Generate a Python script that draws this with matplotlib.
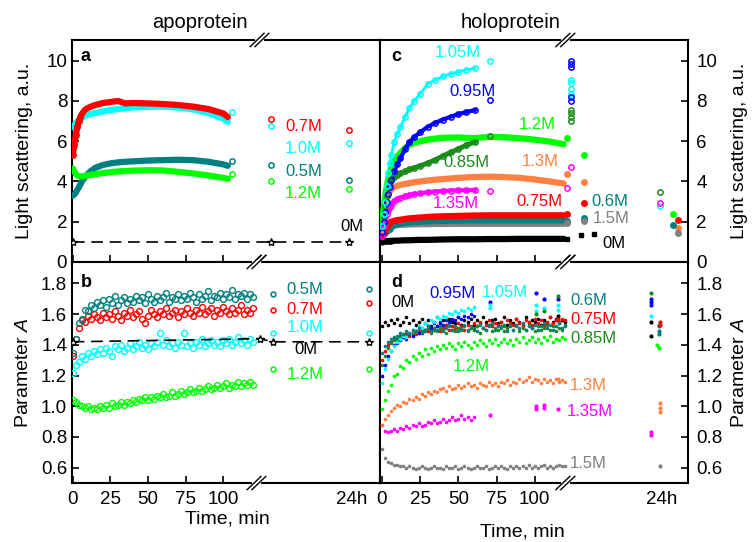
import numpy as np
import matplotlib.pyplot as plt

plt.rcParams['font.family'] = ['Liberation Sans', 'DejaVu Sans']
plt.rcParams['mathtext.fontset'] = 'custom'
plt.rcParams['mathtext.rm'] = 'Liberation Sans'
plt.rcParams['mathtext.it'] = 'Liberation Sans:italic'

RED = '#ff0000'
CYAN = '#00ffff'
TEAL = '#008080'
LIME = '#00ff00'
BLUE = '#0000ff'
DKGREEN = '#1a8c1a'
ORANGE = '#ff8040'
MAGENTA = '#ff00ff'
GRAY = '#808080'

# ---------------- panel a: apoprotein, light scattering ----------------
ta = [0, 1, 2, 3, 4, 5, 6, 8, 10, 12, 15, 20, 25, 30, 35, 40, 50, 60, 70, 80, 90, 100, 103]
a_red = [5.34, 5.8, 6.3, 6.7, 7.0, 7.2, 7.35, 7.55, 7.65, 7.72, 7.8, 7.9, 7.95, 8.0, 7.88, 7.9,
         7.88, 7.85, 7.8, 7.72, 7.6, 7.38, 7.2]
a_cyan = [6.72, 6.8, 6.9, 6.98, 7.05, 7.1, 7.15, 7.25, 7.32, 7.36, 7.4, 7.48, 7.55, 7.6, 7.64, 7.68,
          7.72, 7.72, 7.68, 7.58, 7.4, 7.12, 6.96]
a_teal = [3.3, 3.35, 3.45, 3.58, 3.7, 3.85, 4.0, 4.2, 4.38, 4.52, 4.68, 4.82, 4.9, 4.95, 4.98, 5.0,
          5.04, 5.06, 5.08, 5.06, 4.98, 4.85, 4.78]
a_lime = [4.65, 4.5, 4.38, 4.3, 4.27, 4.26, 4.26, 4.28, 4.3, 4.33, 4.36, 4.42, 4.46, 4.5, 4.52, 4.54,
          4.56, 4.55, 4.48, 4.4, 4.3, 4.18, 4.13]
a_end_t = [106]
a_cyan_end = [7.45]
a_teal_end = [5.02]
a_lime_end = [4.35]
a_late_t = [131.5, 183.4]
a_red_late = [7.12, 6.55]
a_cyan_late = [6.78, 5.92]
a_teal_late = [4.82, 4.05]
a_lime_late = [4.03, 3.65]
a_zero_t = [0, 131.5, 183.4]
a_zero = [1.0, 1.0, 1.0]

# ---------------- panel b: apoprotein, parameter A (every 2 min) ----------------
b_teal = [1.35, 1.44, 1.54, 1.57, 1.63, 1.62, 1.66, 1.64, 1.68, 1.66,
          1.69, 1.65, 1.70, 1.67, 1.72, 1.66, 1.69, 1.71, 1.67, 1.70,
          1.68, 1.72, 1.69, 1.71, 1.67, 1.73, 1.70, 1.68, 1.72, 1.69,
          1.71, 1.74, 1.68, 1.71, 1.70, 1.73, 1.69, 1.72, 1.70, 1.74,
          1.71, 1.68, 1.73, 1.70, 1.72, 1.75, 1.69, 1.72, 1.71, 1.74,
          1.70, 1.73, 1.71, 1.76, 1.70, 1.73, 1.72, 1.74, 1.70, 1.73, 1.71]
b_red = [1.33, 1.44, 1.51, 1.56, 1.55, 1.59, 1.57, 1.60, 1.58, 1.56,
         1.61, 1.58, 1.60, 1.57, 1.62, 1.59, 1.56, 1.61, 1.59, 1.63,
         1.58, 1.60, 1.62, 1.57, 1.54, 1.59, 1.63, 1.60, 1.58, 1.62,
         1.60, 1.64, 1.59, 1.61, 1.63, 1.58, 1.62, 1.60, 1.64, 1.61,
         1.59, 1.63, 1.61, 1.65, 1.60, 1.62, 1.64, 1.59, 1.63, 1.61,
         1.65, 1.62, 1.60, 1.64, 1.61, 1.63, 1.66, 1.60, 1.63, 1.61, 1.64]
b_cyan = [1.22, 1.27, 1.29, 1.33, 1.31, 1.35, 1.33, 1.36, 1.34, 1.37,
          1.35, 1.38, 1.36, 1.33, 1.39, 1.37, 1.40, 1.36, 1.38, 1.41,
          1.37, 1.39, 1.42, 1.38, 1.40, 1.37, 1.41, 1.39, 1.42, 1.48,
          1.40, 1.43, 1.39, 1.41, 1.38, 1.42, 1.40, 1.48, 1.39, 1.41,
          1.38, 1.42, 1.40, 1.44, 1.39, 1.41, 1.43, 1.40, 1.42, 1.39,
          1.43, 1.41, 1.44, 1.40, 1.42, 1.45, 1.41, 1.43, 1.40, 1.44, 1.42]
b_lime = [1.04, 1.03, 1.01, 1.00, 0.99, 1.00, 0.98, 0.99, 0.98, 1.00,
          0.99, 1.01, 0.99, 1.02, 1.00, 1.01, 1.03, 1.01, 1.03, 1.02,
          1.04, 1.03, 1.05, 1.04, 1.06, 1.04, 1.06, 1.05, 1.07, 1.06,
          1.08, 1.06, 1.07, 1.09, 1.07, 1.08, 1.10, 1.08, 1.09, 1.11,
          1.09, 1.10, 1.12, 1.10, 1.11, 1.13, 1.11, 1.12, 1.14, 1.12,
          1.13, 1.15, 1.12, 1.14, 1.13, 1.16, 1.13, 1.15, 1.14, 1.16, 1.14]
b_late_t = [133, 197]
b_teal_late = [1.73, 1.765]
b_red_late = [1.63, 1.67]
b_cyan_late = [1.48, 1.48]
b_lime_late = [1.24, 1.24]
b_zero_t = [0, 124, 133, 197]
b_zero = [1.42, 1.44, 1.42, 1.42]

# ---------------- panel c: holoprotein, light scattering ----------------
tc_short = [0, 1, 2, 3, 4, 5, 6, 8, 10, 12, 15, 18, 21, 25, 30, 35, 40, 45, 50, 55, 61]
tc_long = [0, 1, 2, 3, 4, 5, 6, 8, 10, 12, 15, 18, 21, 25, 30, 35, 40, 50, 60, 70, 80, 90, 100, 110, 119]
c_cyan = [1.8, 2.4, 3.0, 3.8, 4.4, 4.9, 5.3, 5.95, 6.35, 6.7, 7.2, 7.65, 8.0, 8.35, 8.85, 9.05,
          9.22, 9.35, 9.45, 9.55, 9.62]
c_blue = [1.5, 2.0, 2.5, 3.0, 3.4, 3.75, 4.05, 4.5, 4.85, 5.15, 5.6, 5.95, 6.2, 6.45, 6.72, 6.92,
          7.08, 7.22, 7.35, 7.45, 7.55]
c_dkgreen = [1.8, 2.3, 2.8, 3.3, 3.75, 3.95, 4.05, 4.2, 4.3, 4.4, 4.5, 4.6, 4.68, 4.78, 4.92, 5.08,
             5.28, 5.45, 5.62, 5.8, 5.97]
c_magenta = [1.3, 1.8, 2.15, 2.4, 2.57, 2.72, 2.85, 3.02, 3.12, 3.2, 3.28, 3.33, 3.38, 3.42, 3.47,
             3.5, 3.53, 3.55, 3.56, 3.57, 3.57]
c_lime = [2.0, 2.6, 3.2, 3.7, 4.1, 4.45, 4.7, 5.0, 5.25, 5.42, 5.65, 5.82, 5.92, 6.0, 6.08, 6.13,
          6.17, 6.19, 6.15, 6.22, 6.2, 6.15, 6.08, 5.98, 5.85]
c_orange = [1.5, 2.4, 3.0, 3.3, 3.48, 3.58, 3.65, 3.72, 3.78, 3.83, 3.88, 3.92, 3.96, 4.0, 4.05,
            4.09, 4.12, 4.18, 4.22, 4.24, 4.22, 4.18, 4.1, 4.0, 3.9]
c_red = [1.3, 1.45, 1.6, 1.75, 1.88, 1.95, 2.0, 2.05, 2.08, 2.1, 2.14, 2.17, 2.19, 2.21, 2.24, 2.26,
         2.27, 2.29, 2.31, 2.32, 2.32, 2.32, 2.32, 2.32, 2.32]
c_teal = [1.3, 1.38, 1.45, 1.52, 1.6, 1.66, 1.72, 1.8, 1.86, 1.9, 1.93, 1.96, 1.98, 2.0, 2.02, 2.03,
          2.04, 2.06, 2.07, 2.07, 2.07, 2.07, 2.07, 2.07, 2.07]
c_gray = [1.5, 1.6, 1.68, 1.73, 1.77, 1.8, 1.81, 1.83, 1.84, 1.85, 1.86, 1.87, 1.87, 1.88, 1.88,
          1.89, 1.89, 1.9, 1.9, 1.9, 1.9, 1.9, 1.9, 1.9, 1.9]
c_black = [1.0, 1.02, 1.03, 1.04, 1.04, 1.05, 1.05, 1.06, 1.06, 1.07, 1.08, 1.08, 1.09, 1.1, 1.1,
           1.11, 1.12, 1.13, 1.13, 1.14, 1.14, 1.15, 1.15, 1.15, 1.15]
c_cyan_late_t = [71, 124, 124, 124, 124, 182]
c_cyan_late = [9.98, 9.04, 8.87, 8.62, 8.37, 2.79]
c_blue_late_t = [71, 124, 124, 124, 124, 124]
c_blue_late = [8.04, 10.0, 9.85, 9.7, 8.2, 7.99]
c_dkgreen_late_t = [71, 124, 124, 124, 124, 182]
c_dkgreen_late = [6.25, 7.55, 7.38, 7.18, 7.01, 3.48]
c_magenta_late_t = [71, 121, 124, 182]
c_magenta_late = [3.53, 3.68, 4.73, 2.94]
c_lime_late_t = [121, 132, 190.6]
c_lime_late = [6.14, 5.31, 2.4]
c_orange_late_t = [121, 132, 193.7]
c_orange_late = [4.39, 3.98, 1.69]
c_red_late_t = [121, 132, 193.7]
c_red_late = [2.37, 2.95, 2.1]
c_teal_late_t = [121, 132, 190.6]
c_teal_late = [2.04, 2.19, 1.86]
c_gray_late_t = [121, 132, 193.7]
c_gray_late = [1.93, 2.02, 1.44]
c_black_late_t = [121, 130, 139]
c_black_late = [1.15, 1.33, 1.38]

# ---------------- panel d: holoprotein, parameter A (every 2 min) ----------------
d_black = [1.52, 1.55, 1.53, 1.56, 1.54, 1.57, 1.53, 1.55, 1.58, 1.54,
           1.56, 1.53, 1.55, 1.57, 1.54, 1.56, 1.52, 1.55, 1.58, 1.54,
           1.56, 1.53, 1.57, 1.55, 1.54, 1.58, 1.53, 1.56, 1.55, 1.57,
           1.53, 1.56, 1.54, 1.58, 1.55, 1.53, 1.56, 1.57, 1.54, 1.55,
           1.58, 1.53, 1.56, 1.54, 1.57, 1.55, 1.53, 1.58, 1.54, 1.56,
           1.55, 1.57, 1.53, 1.56, 1.54, 1.58, 1.55, 1.57, 1.54, 1.56, 1.55]
d_blue = [1.20, 1.27, 1.33, 1.36, 1.40, 1.41, 1.43, 1.45, 1.44, 1.47,
          1.46, 1.49, 1.48, 1.51, 1.50, 1.52, 1.51, 1.54, 1.52, 1.55,
          1.53, 1.56, 1.55, 1.57, 1.56, 1.58, 1.57, 1.59, 1.58, 1.60, 1.59]
d_cyan = [1.15, 1.24, 1.31, 1.36, 1.39, 1.42, 1.44, 1.46, 1.45, 1.48,
          1.50, 1.49, 1.52, 1.51, 1.54, 1.53, 1.56, 1.55, 1.58, 1.57,
          1.59, 1.58, 1.61, 1.60, 1.62, 1.61, 1.63, 1.62, 1.64, 1.63, 1.65]
d_teal = [1.35, 1.39, 1.42, 1.44, 1.45, 1.46, 1.48, 1.47, 1.49, 1.48,
          1.50, 1.49, 1.51, 1.48, 1.50, 1.52, 1.49, 1.51, 1.50, 1.52,
          1.49, 1.51, 1.53, 1.50, 1.52, 1.49, 1.51, 1.53, 1.50, 1.52,
          1.51, 1.49, 1.53, 1.51, 1.50, 1.52, 1.54, 1.50, 1.52, 1.51,
          1.53, 1.49, 1.52, 1.50, 1.53, 1.51, 1.54, 1.50, 1.52, 1.51,
          1.53, 1.50, 1.52, 1.54, 1.51, 1.53, 1.50, 1.52, 1.54, 1.51, 1.53]
d_red = [1.30, 1.36, 1.40, 1.42, 1.44, 1.43, 1.46, 1.45, 1.47, 1.46,
         1.48, 1.47, 1.49, 1.48, 1.50, 1.49, 1.51, 1.50, 1.52, 1.49,
         1.51, 1.53, 1.50, 1.52, 1.51, 1.54, 1.52, 1.50, 1.53, 1.51,
         1.54, 1.52, 1.55, 1.51, 1.53, 1.56, 1.52, 1.54, 1.53, 1.55,
         1.52, 1.56, 1.54, 1.53, 1.57, 1.54, 1.52, 1.56, 1.55, 1.53,
         1.57, 1.54, 1.56, 1.53, 1.55, 1.58, 1.54, 1.56, 1.55, 1.57, 1.56]
d_dkgreen = [1.27, 1.33, 1.38, 1.41, 1.43, 1.44, 1.45, 1.47, 1.46, 1.48,
             1.47, 1.49, 1.48, 1.50, 1.49, 1.51, 1.48, 1.50, 1.49, 1.51,
             1.50, 1.48, 1.52, 1.50, 1.49, 1.51, 1.50, 1.52, 1.49, 1.51,
             1.50, 1.52, 1.48, 1.51, 1.50, 1.53, 1.49, 1.51, 1.50, 1.52,
             1.49, 1.51, 1.53, 1.50, 1.52, 1.49, 1.51, 1.50, 1.53, 1.51,
             1.49, 1.52, 1.50, 1.51, 1.53, 1.50, 1.52, 1.49, 1.51, 1.50, 1.52]
d_lime = [0.98, 1.04, 1.10, 1.14, 1.20, 1.21, 1.26, 1.25, 1.30, 1.29,
          1.33, 1.31, 1.35, 1.33, 1.37, 1.34, 1.38, 1.36, 1.39, 1.37,
          1.40, 1.38, 1.41, 1.39, 1.37, 1.41, 1.39, 1.42, 1.40, 1.38,
          1.42, 1.40, 1.43, 1.41, 1.39, 1.43, 1.41, 1.44, 1.40, 1.42,
          1.44, 1.41, 1.43, 1.40, 1.44, 1.42, 1.45, 1.41, 1.43, 1.45,
          1.42, 1.44, 1.41, 1.45, 1.43, 1.46, 1.42, 1.44, 1.43, 1.45, 1.44]
d_orange = [0.88, 0.92, 0.94, 0.97, 0.99, 1.01, 1.00, 1.03, 1.02, 1.05,
            1.04, 1.06, 1.05, 1.08, 1.07, 1.09, 1.08, 1.10, 1.09, 1.11,
            1.12, 1.10, 1.13, 1.11, 1.12, 1.14, 1.12, 1.13, 1.15, 1.13,
            1.14, 1.12, 1.15, 1.14, 1.13, 1.16, 1.14, 1.15, 1.13, 1.16,
            1.15, 1.17, 1.14, 1.16, 1.15, 1.18, 1.16, 1.17, 1.19, 1.16,
            1.18, 1.17, 1.15, 1.18, 1.16, 1.17, 1.15, 1.18, 1.16, 1.17, 1.16]
d_magenta = [0.88, 0.84, 0.83, 0.84, 0.85, 0.84, 0.86, 0.85, 0.87, 0.86,
             0.88, 0.87, 0.89, 0.87, 0.88, 0.90, 0.89, 0.91, 0.89, 0.90,
             0.92, 0.90, 0.91, 0.93, 0.91, 0.92, 0.94, 0.92, 0.93, 0.91, 0.93]
d_gray = [0.72, 0.66, 0.64, 0.63, 0.62, 0.62, 0.61, 0.61, 0.60, 0.61,
          0.60, 0.59, 0.60, 0.61, 0.60, 0.59, 0.60, 0.61, 0.60, 0.60,
          0.59, 0.61, 0.60, 0.60, 0.61, 0.59, 0.60, 0.61, 0.60, 0.59,
          0.60, 0.61, 0.60, 0.60, 0.61, 0.59, 0.60, 0.61, 0.60, 0.61,
          0.60, 0.59, 0.61, 0.60, 0.61, 0.60, 0.61, 0.60, 0.62, 0.60,
          0.61, 0.60, 0.61, 0.62, 0.60, 0.61, 0.60, 0.61, 0.62, 0.61, 0.61]
d_blue_late_t = [71, 101, 106, 115, 176, 176, 176]
d_blue_late = [1.68, 1.74, 1.70, 1.70, 1.70, 1.68, 1.66]
d_cyan_late_t = [71, 71, 101, 101, 106, 115, 115, 176]
d_cyan_late = [1.66, 1.64, 1.66, 1.62, 1.64, 1.66, 1.63, 1.59]
d_dkgreen_late_t = [101, 106, 115, 176, 181]
d_dkgreen_late = [1.60, 1.62, 1.72, 1.74, 1.53]
d_magenta_late_t = [71, 101, 101, 106, 106, 115, 176, 176]
d_magenta_late = [0.94, 0.98, 1.00, 0.99, 1.01, 0.98, 0.81, 0.83]
d_black_late_t = [115, 176, 176]
d_black_late = [1.59, 1.55, 1.46]
d_teal_late_t = [181, 181, 181]
d_teal_late = [1.52, 1.49, 1.47]
d_red_late_t = [115, 182, 182]
d_red_late = [1.57, 1.55, 1.53]
d_lime_late_t = [180, 181]
d_lime_late = [1.40, 1.38]
d_orange_late_t = [115, 182, 182, 182]
d_orange_late = [1.18, 0.96, 0.99, 1.02]
d_gray_late_t = [182]
d_gray_late = [0.61]


def every2(v):
    return np.arange(len(v)) * 2


def band(ax, t, v, color, lw=4.5):
    ax.plot(t, v, '-', color=color, lw=lw, solid_capstyle='round', zorder=3)


def rings(ax, t, v, color, ms=3.8):
    ax.plot(t, v, 'o', ls='none', color=color, mfc='none', ms=ms, mew=1.1, zorder=4)


def blobs(ax, t, v, color, ms=4.5):
    ax.plot(t, v, 'o', ls='none', color=color, ms=ms, mew=0, zorder=4)


def specks(ax, t, v, color, ms=2.6):
    ax.plot(t, v, 'o', ls='none', color=color, ms=ms, mew=0, zorder=3)


def add_break(ax, x, y, half_w=4.6):
    tr = ax.get_xaxis_transform()
    ax.plot([x - 1.6, x + 1.6], [y, y], color='white', lw=3, transform=tr,
            clip_on=False, zorder=6)
    for dx in (-1.6, 1.6):
        ax.plot([x + dx - half_w, x + dx + half_w], [y - 0.03, y + 0.03], color='k',
                lw=1, transform=tr, clip_on=False, zorder=7)


fig = plt.figure(figsize=(7.52, 5.42), dpi=100)
W, H = 752, 542
ax_a = fig.add_axes([72 / W, 1 - 262 / H, 308 / W, 222 / H])
ax_c = fig.add_axes([380 / W, 1 - 262 / H, 308 / W, 222 / H])
ax_b = fig.add_axes([72 / W, 1 - 483 / H, 308 / W, 221 / H])
ax_d = fig.add_axes([380 / W, 1 - 483 / H, 308 / W, 221 / H])

for ax in (ax_a, ax_b, ax_c, ax_d):
    for s in ax.spines.values():
        s.set_linewidth(1.5)
    ax.tick_params(direction='in', length=5, width=1.2, labelsize=13.5)

# ---- a ----
band(ax_a, ta, a_cyan, CYAN)
band(ax_a, ta, a_red, RED)
band(ax_a, ta, a_teal, TEAL)
band(ax_a, ta, a_lime, LIME)
rings(ax_a, ta[:6], a_red[:6], RED)
rings(ax_a, a_end_t, a_cyan_end, CYAN)
rings(ax_a, a_end_t, a_teal_end, TEAL)
rings(ax_a, a_end_t, a_lime_end, LIME)
rings(ax_a, a_late_t, a_red_late, RED)
rings(ax_a, a_late_t, a_cyan_late, CYAN)
rings(ax_a, a_late_t, a_teal_late, TEAL)
rings(ax_a, a_late_t, a_lime_late, LIME)
ax_a.plot(a_zero_t, a_zero, color='k', lw=1.2, dashes=(7, 4), marker='*', ms=6,
          mfc='white', mec='k', mew=1, zorder=4)
ax_a.text(141, 6.72, '0.7M', color=RED, fontsize=12, va='center')
ax_a.text(141, 5.64, '1.0M', color=CYAN, fontsize=12, va='center')
ax_a.text(141, 4.48, '0.5M', color=TEAL, fontsize=12, va='center')
ax_a.text(141, 3.40, '1.2M', color=LIME, fontsize=12, va='center')
ax_a.text(178, 1.74, '0M', color='k', fontsize=12, va='center')

# ---- b ----
for vals, col in ((b_lime, LIME), (b_cyan, CYAN), (b_red, RED), (b_teal, TEAL)):
    ax_b.plot(every2(vals), vals, 'o', ls='none', color=col, mfc='none', ms=4.2, mew=1, zorder=3)
ax_b.plot(b_zero_t, b_zero, color='k', lw=1.2, dashes=(7, 4), marker='*', ms=6,
          mfc='white', mec='k', mew=1, zorder=4)
rings(ax_b, b_late_t, b_teal_late, TEAL, ms=3.5)
rings(ax_b, b_late_t, b_red_late, RED, ms=3.5)
rings(ax_b, b_late_t, b_cyan_late, CYAN, ms=3.5)
rings(ax_b, b_late_t, b_lime_late, LIME, ms=3.5)
ax_b.text(142, 1.76, '0.5M', color=TEAL, fontsize=12, va='center')
ax_b.text(142, 1.63, '0.7M', color=RED, fontsize=12, va='center')
ax_b.text(142, 1.51, '1.0M', color=CYAN, fontsize=12, va='center')
ax_b.text(147, 1.37, '0M', color='k', fontsize=12, va='center')
ax_b.text(142, 1.21, '1.2M', color=LIME, fontsize=12, va='center')

# ---- c ----
for vals, col in ((c_black, 'k'), (c_gray, GRAY), (c_teal, TEAL), (c_red, RED),
                  (c_orange, ORANGE), (c_lime, LIME)):
    band(ax_c, tc_long, vals, col)
    blobs(ax_c, tc_long[:7], vals[:7], col)
band(ax_c, tc_short, c_magenta, MAGENTA, lw=3)
rings(ax_c, tc_short, c_magenta, MAGENTA)
band(ax_c, tc_short, c_dkgreen, DKGREEN, lw=3.5)
rings(ax_c, tc_short, c_dkgreen, DKGREEN)
band(ax_c, tc_short, c_blue, BLUE, lw=3)
rings(ax_c, tc_short, c_blue, BLUE)
band(ax_c, tc_short, c_cyan, CYAN, lw=2)
rings(ax_c, tc_short, c_cyan, CYAN)
rings(ax_c, c_cyan_late_t, c_cyan_late, CYAN)
rings(ax_c, c_blue_late_t, c_blue_late, BLUE)
rings(ax_c, c_dkgreen_late_t, c_dkgreen_late, DKGREEN)
rings(ax_c, c_magenta_late_t, c_magenta_late, MAGENTA)
blobs(ax_c, c_lime_late_t, c_lime_late, LIME, ms=5)
blobs(ax_c, c_orange_late_t, c_orange_late, ORANGE, ms=5)
blobs(ax_c, c_red_late_t, c_red_late, RED, ms=5)
blobs(ax_c, c_teal_late_t, c_teal_late, TEAL, ms=5)
blobs(ax_c, c_gray_late_t, c_gray_late, GRAY, ms=5)
ax_c.plot(c_black_late_t, c_black_late, 's', ls='none', color='k', ms=3, zorder=4)
ax_c.text(49.7, 10.4, '1.05M', color=CYAN, fontsize=12, ha='center', va='center')
ax_c.text(59.2, 8.46, '0.95M', color=BLUE, fontsize=12, ha='center', va='center')
ax_c.text(101.4, 6.85, '1.2M', color=LIME, fontsize=12, ha='center', va='center')
ax_c.text(55.3, 4.93, '0.85M', color=DKGREEN, fontsize=12, ha='center', va='center')
ax_c.text(103.4, 4.98, '1.3M', color=ORANGE, fontsize=12, ha='center', va='center')
ax_c.text(48.1, 2.9, '1.35M', color=MAGENTA, fontsize=12, ha='center', va='center')
ax_c.text(103.1, 2.99, '0.75M', color=RED, fontsize=12, ha='center', va='center')
ax_c.text(136.8, 2.99, '0.6M', color=TEAL, fontsize=12, va='center')
ax_c.text(138.1, 2.16, '1.5M', color=GRAY, fontsize=12, va='center')
ax_c.text(144, 0.92, '0M', color='k', fontsize=12, va='center')

# ---- d ----
specks(ax_d, every2(d_gray), d_gray, GRAY)
specks(ax_d, every2(d_magenta), d_magenta, MAGENTA)
specks(ax_d, every2(d_orange), d_orange, ORANGE)
specks(ax_d, every2(d_lime), d_lime, LIME)
specks(ax_d, every2(d_black), d_black, 'k')
specks(ax_d, every2(d_red), d_red, RED)
specks(ax_d, every2(d_dkgreen), d_dkgreen, DKGREEN)
specks(ax_d, every2(d_blue), d_blue, BLUE)
specks(ax_d, every2(d_cyan), d_cyan, CYAN)
specks(ax_d, every2(d_teal), d_teal, TEAL)
for lt, lv, col in ((d_blue_late_t, d_blue_late, BLUE), (d_cyan_late_t, d_cyan_late, CYAN),
                    (d_dkgreen_late_t, d_dkgreen_late, DKGREEN),
                    (d_magenta_late_t, d_magenta_late, MAGENTA),
                    (d_black_late_t, d_black_late, 'k'), (d_teal_late_t, d_teal_late, TEAL),
                    (d_red_late_t, d_red_late, RED), (d_lime_late_t, d_lime_late, LIME),
                    (d_orange_late_t, d_orange_late, ORANGE), (d_gray_late_t, d_gray_late, GRAY)):
    specks(ax_d, lt, lv, col, ms=3)
ax_d.text(14, 1.674, '0M', color='k', fontsize=12, ha='center', va='center')
ax_d.text(46.1, 1.735, '0.95M', color=BLUE, fontsize=12, ha='center', va='center')
ax_d.text(80.5, 1.739, '1.05M', color=CYAN, fontsize=12, ha='center', va='center')
ax_d.text(123, 1.69, '0.6M', color=TEAL, fontsize=12, va='center')
ax_d.text(123, 1.565, '0.75M', color=RED, fontsize=12, va='center')
ax_d.text(123, 1.44, '0.85M', color=DKGREEN, fontsize=12, va='center')
ax_d.text(58.6, 1.257, '1.2M', color=LIME, fontsize=12, ha='center', va='center')
ax_d.text(123, 1.137, '1.3M', color=ORANGE, fontsize=12, va='center')
ax_d.text(121, 0.963, '1.35M', color=MAGENTA, fontsize=12, va='center')
ax_d.text(123, 0.627, '1.5M', color=GRAY, fontsize=12, va='center')

# ---- axes setup ----
for ax in (ax_a, ax_b):
    ax.set_xlim(-0.5, 204)
for ax in (ax_c, ax_d):
    ax.set_xlim(-1.3, 200.3)
for ax in (ax_a, ax_c):
    ax.set_ylim(0, 11.03)
    ax.set_yticks([0, 2, 4, 6, 8, 10])
for ax in (ax_b, ax_d):
    ax.set_ylim(0.5, 1.94)
    ax.set_yticks([0.6, 0.8, 1.0, 1.2, 1.4, 1.6, 1.8])
    ax.set_yticklabels(['0.6', '0.8', '1.0', '1.2', '1.4', '1.6', '1.8'])

for ax, pos24 in ((ax_a, 185), (ax_b, 185), (ax_c, 183), (ax_d, 183)):
    ax.set_xticks([0, 25, 50, 75, 100, pos24])
    ax.set_xticklabels(['0', '25', '50', '75', '100', '24h'])
    ax.xaxis.get_major_ticks()[-1].tick1line.set_visible(False)
    ax.tick_params(axis='x', pad=6)
for ax in (ax_a, ax_c):
    ax.tick_params(axis='x', labelbottom=False)

for ax in (ax_c, ax_d):
    ax.yaxis.tick_right()
    ax.yaxis.set_label_position('right')
    ax.tick_params(axis='y', pad=6)

ax_a.set_ylabel('Light scattering, a.u.', fontsize=14)
ax_a.yaxis.set_label_coords(-0.125, 0.5)
ax_b.set_ylabel('Parameter $\\mathit{A}$', fontsize=14)
ax_b.yaxis.set_label_coords(-0.13, 0.5)
ax_c.set_ylabel('Light scattering, a.u.', fontsize=14)
ax_c.yaxis.set_label_coords(1.14, 0.5)
ax_d.set_ylabel('Parameter $\\mathit{A}$', fontsize=14)
ax_d.yaxis.set_label_coords(1.14, 0.5)

ax_a.text(0.027, 0.925, 'a', transform=ax_a.transAxes, fontsize=13, fontweight='bold', va='center')
ax_b.text(0.027, 0.905, 'b', transform=ax_b.transAxes, fontsize=13, fontweight='bold', va='center')
ax_c.text(0.035, 0.925, 'c', transform=ax_c.transAxes, fontsize=13, fontweight='bold', va='center')
ax_d.text(0.035, 0.905, 'd', transform=ax_d.transAxes, fontsize=13, fontweight='bold', va='center')

fig.text(200 / W, 1 - 22 / H, 'apoprotein', fontsize=14.5, ha='center', va='center')
fig.text(511 / W, 1 - 22 / H, 'holoprotein', fontsize=14.5, ha='center', va='center')
fig.text(227 / W, 1 - 519 / H, 'Time, min', fontsize=14, ha='center', va='center')
fig.text(522 / W, 1 - 532 / H, 'Time, min', fontsize=14, ha='center', va='center')

add_break(ax_a, 124, 1)
add_break(ax_a, 122, 0)
add_break(ax_b, 122, 1)
add_break(ax_b, 122, 0)
add_break(ax_c, 120, 1)
add_break(ax_c, 120, 0)
add_break(ax_d, 120, 1)
add_break(ax_d, 120, 0)

fig.savefig('out.png', dpi=100)
